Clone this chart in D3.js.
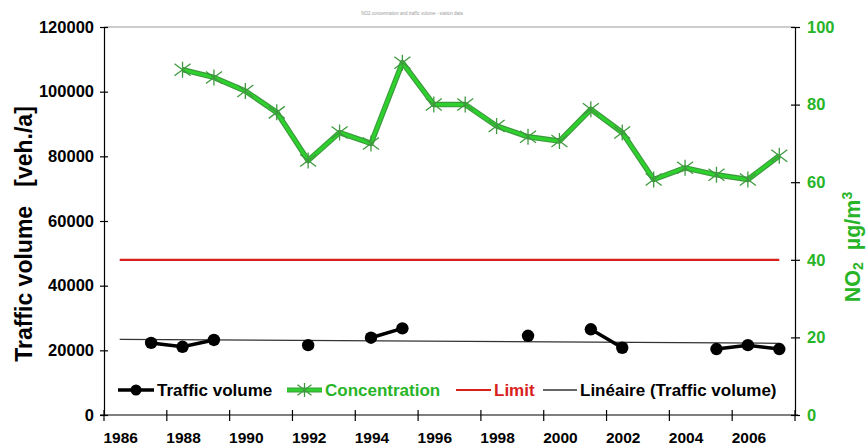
<!DOCTYPE html>
<html><head><meta charset="utf-8">
<script src="https://cdn.jsdelivr.net/npm/d3@7"></script>
<style>
html,body{margin:0;padding:0;background:#fff;}
svg{display:block;font-family:"Liberation Sans",Arial,sans-serif;}
</style></head>
<body><svg id="c" width="867" height="446"></svg>
<script>
// ---- data ----
const years = d3.range(1986, 2008);
const trafficVolume = [null, 22300, 21100, 23200, null, null, 21600, null, 23900, 26800, null, null, null, 24500, null, 26500, 20800, null, null, 20400, 21600, 20400];
const concentration = [null, null, 89, 87, 83.5, 78, 65.6, 72.8, 70, 90.8, 80, 80, 74.5, 71.7, 70.6, 78.8, 72.8, 60.7, 63.7, 61.9, 60.7, 66.8];
const limitValue = 40;
const xTickLabels = [1986, 1988, 1990, 1992, 1994, 1996, 1998, 2000, 2002, 2004, 2006];
const leftTicks = [0, 20000, 40000, 60000, 80000, 100000, 120000];
const rightTicks = [0, 20, 40, 60, 80, 100];
const legendLabels = ["Traffic volume", "Concentration", "Limit", "Linéaire (Traffic volume)"];

// ---- layout ----
const L = 104, R = 795, T = 27, B = 415;
const GREEN_TXT = "#27b427", RED = "#d8201c";
const svg = d3.select("#c");

const x = d3.scaleBand().domain(years).range([L, R]).padding(0);
const cx = yr => x(yr) + x.bandwidth() / 2;
const yL = d3.scaleLinear().domain([0, 120000]).range([B, T]);
const yR = d3.scaleLinear().domain([0, 100]).range([B, T]);

// tiny title
svg.append("text").attr("x", 412).attr("y", 15).attr("text-anchor", "middle")
  .attr("font-size", 4.5).attr("fill", "#9a9a9a")
  .text("NO2 concentration and traffic volume - station data");

// top border line
svg.append("line").attr("x1", L).attr("x2", R).attr("y1", T).attr("y2", T)
  .attr("stroke", "#9a9a9a").attr("stroke-width", 1.2);

// left axis
const gL = svg.append("g").attr("transform", `translate(${L},0)`)
  .call(d3.axisLeft(yL).tickValues(leftTicks).tickSize(0).tickPadding(10).tickFormat(d3.format("d")));
gL.select(".domain").attr("stroke", "#000").attr("stroke-width", 1.2);
gL.selectAll(".tick text").attr("font-size", 16.5).attr("font-weight", "bold").attr("fill", "#000")
  .attr("font-family", "Liberation Sans, Arial, sans-serif");
gL.selectAll(".tick").append("line").attr("x1", -4).attr("x2", 4).attr("stroke", "#000").attr("stroke-width", 1.2);

// right axis
const gR = svg.append("g").attr("transform", `translate(${R},0)`)
  .call(d3.axisRight(yR).tickValues(rightTicks).tickSize(0).tickPadding(12));
gR.select(".domain").attr("stroke", "#000").attr("stroke-width", 1.2);
gR.selectAll(".tick text").attr("font-size", 16.5).attr("font-weight", "bold").attr("fill", GREEN_TXT)
  .attr("font-family", "Liberation Sans, Arial, sans-serif");
gR.selectAll(".tick").append("line").attr("x1", -4).attr("x2", 5).attr("stroke", "#000").attr("stroke-width", 1.2);

// bottom axis
svg.append("line").attr("x1", L - 4).attr("x2", R + 3).attr("y1", B).attr("y2", B)
  .attr("stroke", "#000").attr("stroke-width", 1.2);
const boundaryYears = xTickLabels.map(d => x(d)).concat([R]);
svg.append("g").selectAll("line").data(boundaryYears).join("line")
  .attr("x1", d => d).attr("x2", d => d).attr("y1", B - 5).attr("y2", B + 6)
  .attr("stroke", "#000").attr("stroke-width", 1.2);
svg.append("g").selectAll("text").data(xTickLabels).join("text")
  .attr("x", d => cx(d) + 1).attr("y", 443).attr("text-anchor", "middle")
  .attr("font-size", 15.5).attr("font-weight", "bold").text(d => d);

// axis titles
svg.append("text").attr("transform", "translate(32,234) rotate(-90)").attr("text-anchor", "middle")
  .attr("font-size", 23).attr("font-weight", "bold").attr("xml:space", "preserve")
  .style("white-space", "pre").text("Traffic volume   [veh./a]");
const rt = svg.append("text").attr("transform", "translate(860,247) rotate(-90)").attr("text-anchor", "middle")
  .attr("font-size", 21.5).attr("font-weight", "bold").attr("fill", GREEN_TXT).style("white-space", "pre");
rt.append("tspan").text("NO");
rt.append("tspan").attr("font-size", 14).attr("dy", 3).text("2");
rt.append("tspan").attr("dy", -3).text("  µg/m");
rt.append("tspan").attr("font-size", 14).attr("dy", -8).text("3");

// limit line
svg.append("line").attr("x1", cx(years[0])).attr("x2", cx(years[years.length - 1]))
  .attr("y1", yR(limitValue)).attr("y2", yR(limitValue)).attr("stroke", RED).attr("stroke-width", 2.2);

// trend line (least squares on category index)
const pts = years.map((yr, i) => ({i: i + 1, v: trafficVolume[i]})).filter(d => d.v != null);
const mx = d3.mean(pts, d => d.i), my = d3.mean(pts, d => d.v);
const slope = d3.sum(pts, d => (d.i - mx) * (d.v - my)) / d3.sum(pts, d => (d.i - mx) ** 2);
const icp = my - slope * mx;
svg.append("line").attr("x1", cx(years[0])).attr("x2", cx(years[years.length - 1]))
  .attr("y1", yL(icp + slope * 1)).attr("y2", yL(icp + slope * years.length))
  .attr("stroke", "#333").attr("stroke-width", 1.3);

// concentration line
const concData = years.map((yr, i) => ({yr, v: concentration[i]}));
const lineC = d3.line().defined(d => d.v != null).x(d => cx(d.yr)).y(d => yR(d.v));
svg.append("path").datum(concData).attr("d", lineC).attr("fill", "none")
  .attr("stroke", "#3c9a3c").attr("stroke-width", 5.5).attr("stroke-linejoin", "round");
svg.append("path").datum(concData).attr("d", lineC).attr("fill", "none")
  .attr("stroke", "#2ed02e").attr("stroke-width", 3.2).attr("stroke-linejoin", "round");
function star(g, px, py, s) {
  const h = s;
  g.append("path").attr("d",
    `M${px},${py - h}L${px},${py + h}M${px - h},${py - h * 0.75}L${px + h},${py + h * 0.75}M${px - h},${py + h * 0.75}L${px + h},${py - h * 0.75}`)
    .attr("stroke", "#3f9a3f").attr("stroke-width", 1.3).attr("fill", "none");
}
const gStars = svg.append("g");
concData.filter(d => d.v != null).forEach(d => star(gStars, cx(d.yr), yR(d.v), 8));

// traffic line
const trafData = years.map((yr, i) => ({yr, v: trafficVolume[i]}));
const lineT = d3.line().defined(d => d.v != null).x(d => cx(d.yr)).y(d => yL(d.v));
svg.append("path").datum(trafData).attr("d", lineT).attr("fill", "none")
  .attr("stroke", "#000").attr("stroke-width", 3.5);
svg.append("g").selectAll("circle").data(trafData.filter(d => d.v != null)).join("circle")
  .attr("cx", d => cx(d.yr)).attr("cy", d => yL(d.v)).attr("r", 6.2).attr("fill", "#000");

// legend
const LY = 390;
const lg = svg.append("g").attr("font-size", 17).attr("font-weight", "bold");
lg.append("line").attr("x1", 118).attr("x2", 154).attr("y1", LY).attr("y2", LY).attr("stroke", "#000").attr("stroke-width", 3.5);
lg.append("circle").attr("cx", 136).attr("cy", LY).attr("r", 5.5).attr("fill", "#000");
lg.append("text").attr("x", 157).attr("y", LY + 6).text(legendLabels[0]);
lg.append("line").attr("x1", 287).attr("x2", 322).attr("y1", LY).attr("y2", LY).attr("stroke", "#3c9a3c").attr("stroke-width", 5);
lg.append("line").attr("x1", 287).attr("x2", 322).attr("y1", LY).attr("y2", LY).attr("stroke", "#2ed02e").attr("stroke-width", 2.8);
star(lg, 304.5, LY, 7);
lg.append("text").attr("x", 325).attr("y", LY + 6).attr("fill", GREEN_TXT).text(legendLabels[1]);
lg.append("line").attr("x1", 456).attr("x2", 491).attr("y1", LY).attr("y2", LY).attr("stroke", RED).attr("stroke-width", 2.2);
lg.append("text").attr("x", 494).attr("y", LY + 6).attr("fill", RED).text(legendLabels[2]);
lg.append("line").attr("x1", 543).attr("x2", 577).attr("y1", LY).attr("y2", LY).attr("stroke", "#333").attr("stroke-width", 1.3);
lg.append("text").attr("x", 580).attr("y", LY + 6).text(legendLabels[3]);
</script></body></html>
